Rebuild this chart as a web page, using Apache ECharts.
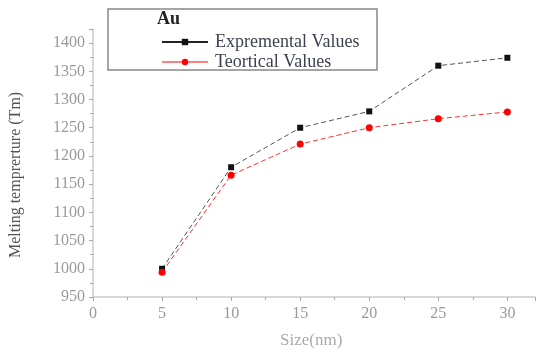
<!DOCTYPE html>
<html>
<head>
<meta charset="utf-8">
<script src="https://cdn.jsdelivr.net/npm/echarts@6/dist/echarts.min.js"></script>
<style>
  html, body { margin: 0; padding: 0; background: #fff; }
  #main { width: 537px; height: 353px; }
</style>
</head>
<body>
<div id="main"></div>
<script type="text/javascript">
// data
var sizes = [5, 10, 15, 20, 25, 30];
var expValues = [1000, 1180, 1250, 1279, 1360, 1374];
var theoValues = [994, 1166, 1221, 1250, 1266, 1278];
var seriesNames = ['Expremental Values', 'Teortical Values'];

var serif = '"Liberation Serif", "DejaVu Serif", serif';

function pairs(xs, ys) {
    var out = [];
    for (var i = 0; i < xs.length; i++) out.push([xs[i], ys[i]]);
    return out;
}

var myChart = echarts.init(document.getElementById('main'));
var option = {
    animation: false,
    backgroundColor: '#fff',
    grid: { left: 93, right: 2, top: 29, bottom: 56 },
    graphic: [
        {
            type: 'rect',
            shape: { x: 108, y: 9, width: 269, height: 61 },
            style: { fill: '#fff', stroke: '#888', lineWidth: 1.5 },
            z: 1
        },
        {
            type: 'text',
            left: 157, top: 10,
            style: { text: 'Au', font: 'bold 18px ' + serif, fill: '#222' },
            z: 2
        },
        {
            type: 'text',
            left: 280, top: 332,
            style: { text: 'Size(nm)', font: '17px ' + serif, fill: '#aaa' },
            z: 2
        },
        {
            type: 'text',
            x: 8, y: 258,
            rotation: Math.PI / 2,
            style: { text: 'Melting temprerture (Tm)', font: '16px ' + serif, fill: '#555' },
            z: 2
        }
    ],
    legend: {
        orient: 'vertical',
        left: 156, top: 28,
        itemWidth: 46, itemHeight: 8,
        itemGap: 2,
        z: 3,
        data: [
            { name: seriesNames[0], lineStyle: { type: 'solid', color: '#222' } },
            { name: seriesNames[1], lineStyle: { type: 'solid', color: '#ff8080' } }
        ],
        textStyle: { fontFamily: serif, fontSize: 18, color: '#3d4250', padding: [0, 0, 0, 2] }
    },
    xAxis: {
        type: 'value',
        min: 0, max: 32, interval: 5,
        axisLine: { lineStyle: { color: '#ccc', width: 1.5 } },
        axisTick: { lineStyle: { color: '#aaa' }, length: 4 },
        minorTick: { show: true, splitNumber: 2, length: 3, lineStyle: { color: '#aaa' } },
        splitLine: { show: false },
        axisLabel: { fontFamily: serif, fontSize: 16, color: '#999', margin: 9, showMaxLabel: false }
    },
    yAxis: {
        type: 'value',
        min: 950, max: 1425, interval: 50,
        axisLine: { show: true, lineStyle: { color: '#ccc', width: 1.5 } },
        axisTick: { show: true, lineStyle: { color: '#aaa' }, length: 4 },
        minorTick: { show: true, splitNumber: 2, length: 3, lineStyle: { color: '#aaa' } },
        splitLine: { show: false },
        axisLabel: {
            fontFamily: serif, fontSize: 16, color: '#999', margin: 8, showMaxLabel: false,
            formatter: function (v) { return String(v); }
        }
    },
    series: [
        {
            name: seriesNames[0],
            type: 'line',
            data: pairs(sizes, expValues),
            symbol: 'rect',
            symbolSize: 6,
            itemStyle: { color: '#111' },
            lineStyle: { color: '#555', width: 1, type: [5, 3] },
            z: 4
        },
        {
            name: seriesNames[1],
            type: 'line',
            data: pairs(sizes, theoValues),
            symbol: 'circle',
            symbolSize: 7,
            itemStyle: { color: '#ff0000' },
            lineStyle: { color: '#ff3030', width: 1, type: [5, 3] },
            z: 4
        }
    ]
};
myChart.setOption(option);
</script>
</body>
</html>
